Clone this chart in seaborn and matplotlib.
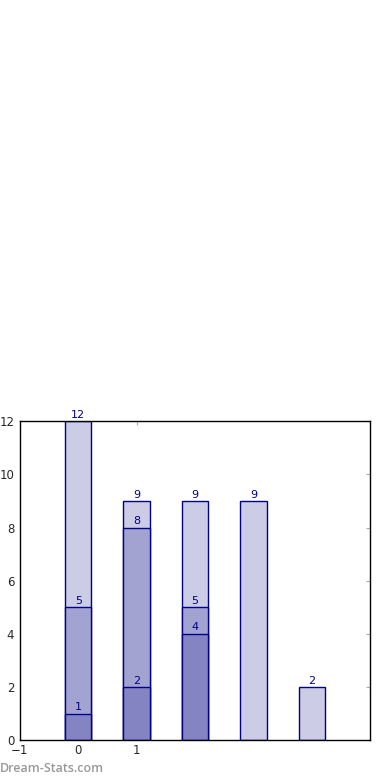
import pandas as pd
import seaborn as sns
import matplotlib.pyplot as plt

# values
positions = [0, 1, 2, 3, 4]
totals = [12, 9, 9, 9, 2]
mid_pos = [0, 1, 2]
mid_vals = [5, 8, 5]
low_pos = [0, 1, 2]
low_vals = [1, 2, 4]

layers = [
    (positions, totals, '#ccccE6'),
    (mid_pos, mid_vals, '#a3a3d1'),
    (low_pos, low_vals, '#8484c2'),
]

sns.set_style('white')
plt.rcParams['font.family'] = ['DejaVu Sans']

fig = plt.figure(figsize=(3.9, 7.8), dpi=100)
ax = fig.add_axes([0.051, 0.051, 0.898, 0.409])

for xs, ys, col in layers:
    df = pd.DataFrame({'x': xs, 'y': ys})
    sns.barplot(data=df, x='x', y='y', native_scale=True, width=0.45,
                color=col, edgecolor='#000088', linewidth=1, saturation=1,
                errorbar=None, ax=ax)
    for xv, yv in zip(xs, ys):
        ax.annotate(str(yv), (xv, yv), xytext=(0, 1), textcoords='offset points',
                    ha='center', va='bottom', color='#000088', fontsize=8)

ax.set_xlim(-1, 5)
ax.set_ylim(0, 12)
ax.set_xticks([-1, 0, 1])
ax.set_yticks(range(0, 13, 2))
ax.set_xlabel('')
ax.set_ylabel('')
ax.tick_params(direction='in', length=3, color='#aaaaaa', labelsize=8.5,
               top=True, right=True, pad=3)
ax.tick_params(axis='y', pad=4)
for sp in ax.spines.values():
    sp.set_visible(True)
    sp.set_color('black')
    sp.set_linewidth(1)

fig.text(0.0, 0.006, 'Dream-Stats.com', color='#999999', fontsize=9,
         family=['Open Sans', 'DejaVu Sans'], fontweight='semibold',
         ha='left', va='bottom')

fig.savefig('out.png', dpi=100)
